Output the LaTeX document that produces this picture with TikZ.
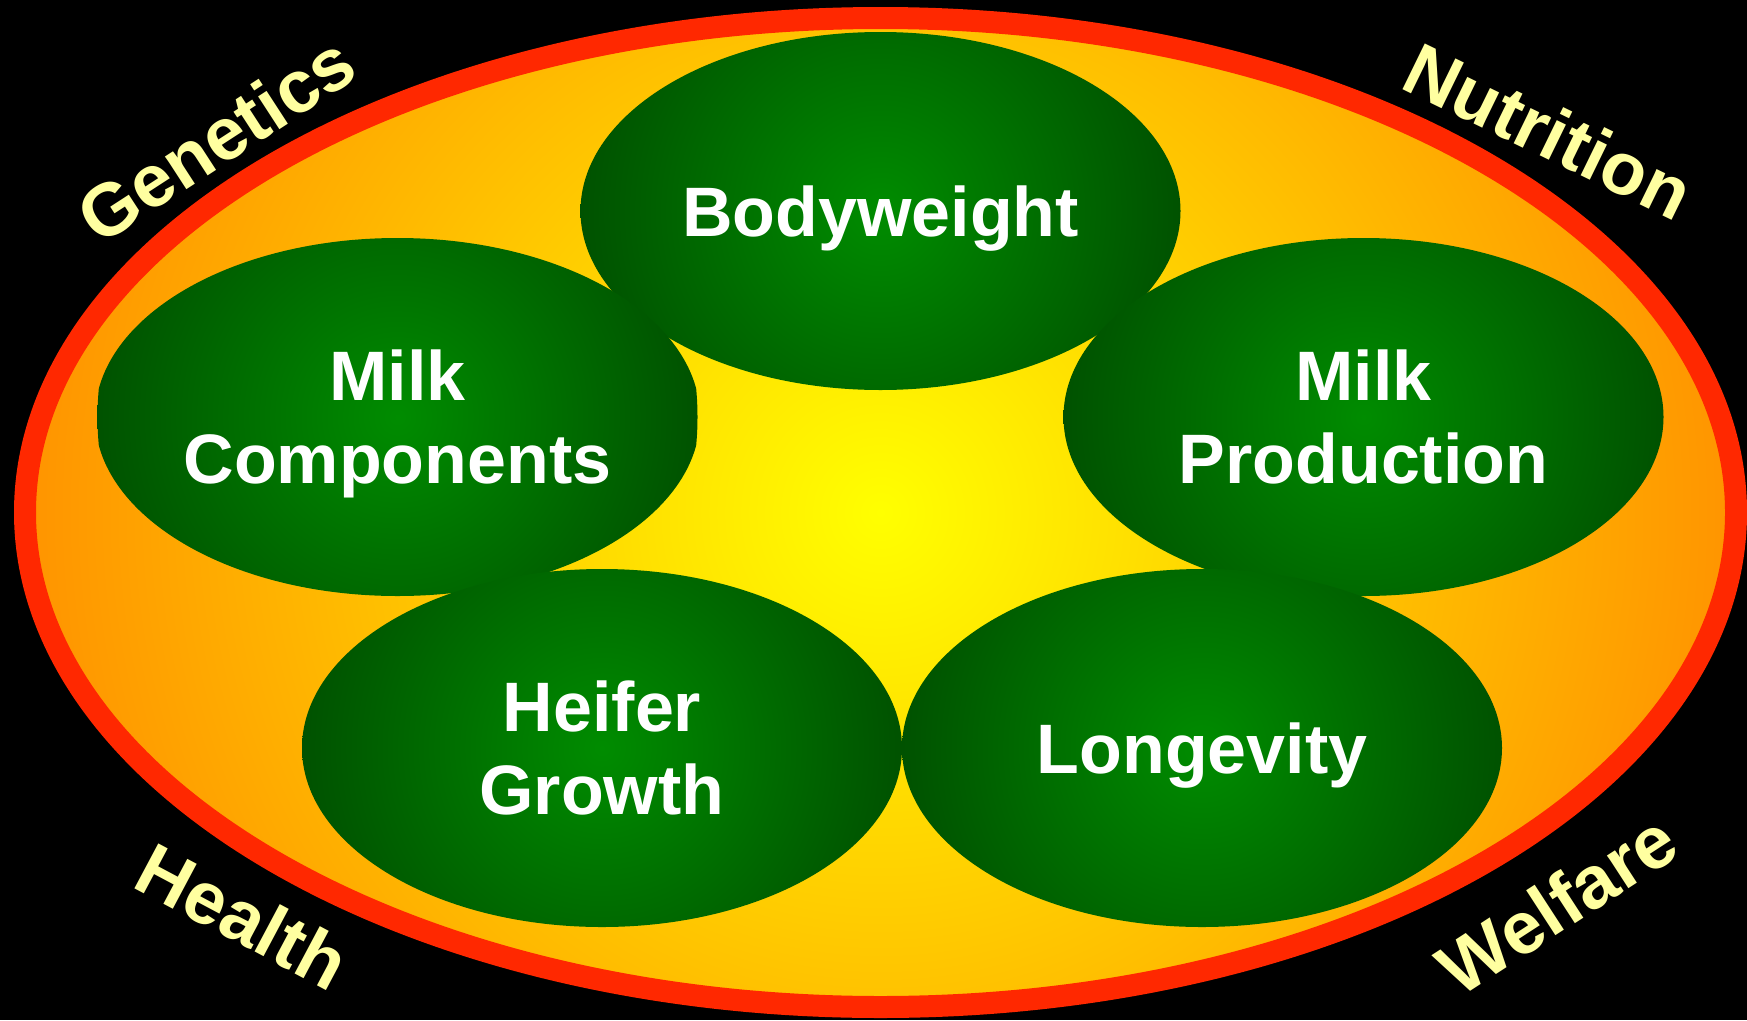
\documentclass[tikz,border=0pt]{standalone}
\usepackage{fontspec}
\setmainfont{Liberation Sans}
\usepackage{tikz}
\usetikzlibrary{shapes.geometric}

\definecolor{fieldred}{RGB}{255,40,0}
\definecolor{fieldin}{RGB}{255,255,0}
\definecolor{fieldout}{RGB}{255,146,0}
\definecolor{blobin}{RGB}{0,140,0}
\definecolor{blobout}{RGB}{0,82,0}
\definecolor{labelyellow}{RGB}{255,255,160}

\tikzset{
  field/.style={ellipse, draw=fieldred, line width=22pt, inner sep=0pt,
    minimum width=1711pt, minimum height=989pt,
    path picture={\shade[inner color=fieldin, outer color=fieldout]
      (path picture bounding box.center) circle [radius=870pt];}},
  blob/.style={ellipse, inner sep=0pt, minimum width=600pt, minimum height=358pt,
    text=white, align=center, text depth=0pt, font=\fontsize{70}{83}\selectfont\bfseries,
    path picture={\shade[inner color=blobin, outer color=blobout]
      (path picture bounding box.center) circle [radius=300pt];}},
  factor/.style={text=labelyellow, inner sep=0pt, font=\fontsize{74}{86}\selectfont\bfseries}
}

\begin{document}
\begin{tikzpicture}[x=1pt, y=-1pt]

  % black page
  \fill[black] (0,0) rectangle (1747,1020);
  \useasboundingbox (0,0) rectangle (1747,1020);

  % outer field
  \node[field] (field) at (880.5,512.5) {};

  % the five traits
  \node[blob] (bodyweight) at (880.5,211) {Bodyweight};
  \node[blob] (components) at (397.5,417) {Milk\\Components};
  \node[blob] (production) at (1363.5,417) {Milk\\Production};
  \node[blob] (heifer) at (602,748) {Heifer\\Growth};
  \node[blob] (longevity) at (1202,748) {Longevity};

  % influences round the edge
  \node[factor, rotate=33] (genetics) at (216,139) {Genetics};
  \node[factor, rotate=-26] (nutrition) at (1549,131) {Nutrition};
  \node[factor, rotate=-28] (health) at (243,916) {Health};
  \node[factor, rotate=33] (welfare) at (1557,904) {Welfare};

\end{tikzpicture}
\end{document}
